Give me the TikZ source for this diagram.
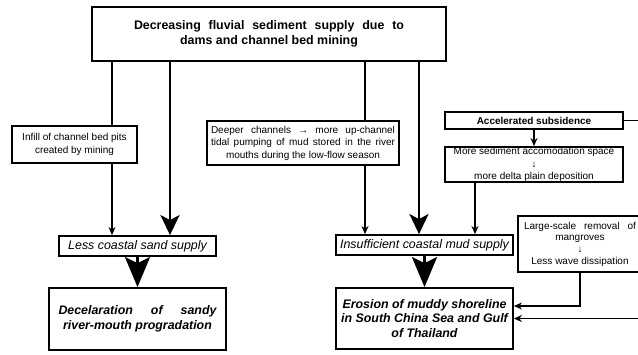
\documentclass[tikz,border=0pt]{standalone}
\usepackage{fontspec}
\setmainfont{Liberation Sans}
\usetikzlibrary{arrows.meta}

\tikzset{
  box/.style={draw, line width=1.8pt, inner sep=0pt, align=center},
  small/.style={font=\fontsize{10}{12.5}\selectfont},
  link/.style={line width=1.2pt},
  arr/.style={link, -{Stealth[length=8pt,width=7pt,inset=2.5pt]}},
  fat/.style={line width=2.6pt, -{Stealth[length=20pt,width=19pt,inset=5pt]}},
  fatter/.style={line width=2.6pt, -{Stealth[length=30pt,width=25pt,inset=6pt]}}
}

\begin{document}
\begin{tikzpicture}[x=1pt, y=-1pt]
        \clip (0,0) rectangle (638,354);

        \coordinate (infillx) at (112,0);
        \coordinate (sandx) at (170,0);
        \coordinate (deepx) at (365,0);
        \coordinate (mudx) at (419,0);
        \coordinate (plainx) at (475,0);

        \node [box, minimum width=354pt, minimum height=54pt, font=\fontsize{12.4}{15}\selectfont\bfseries] (supply) at (269,34)
              {\makebox[270pt][s]{Decreasing fluvial sediment supply due to}\\ dams and channel bed mining};

        \node [box, small, minimum width=125pt, minimum height=37pt] (infill) at (74.5,144.5)
              {Infill of channel bed pits\\ created by mining};
        \node [box, small, minimum width=192pt, minimum height=44pt] (deeper) at (303,143)
              {\makebox[184pt][s]{Deeper channels → more up-channel}\\
               \makebox[184pt][s]{tidal pumping of mud stored in the river}\\
               mouths during the low-flow season};
        \node [box, font=\fontsize{10}{12.5}\selectfont\bfseries, minimum width=178pt, minimum height=17pt] (subsidence) at (534,120.5)
              {Accelerated subsidence};
        \node [box, small, minimum width=178pt, minimum height=35pt] (space) at (534,164.5)
              {More sediment accomodation space\\ ↓\\ more delta plain deposition};
        \node [box, font=\fontsize{10}{11.7}\selectfont, minimum width=124pt, minimum height=56pt] (mangroves) at (580,244)
              {\makebox[112pt][s]{Large-scale removal of}\\ mangroves\\ ↓\\ Less wave dissipation};

        \node [box, font=\fontsize{12.4}{14.5}\selectfont\itshape, minimum width=157pt, minimum height=20pt] (sand) at (137.5,246)
              {Less coastal sand supply};
        \node [box, font=\fontsize{12.4}{14.5}\selectfont\itshape, minimum width=177pt, minimum height=20pt] (mud) at (424.5,245)
              {Insufficient coastal mud supply};

        \node [box, font=\fontsize{12.4}{14.5}\selectfont\bfseries\itshape, minimum width=177pt, minimum height=62pt] (decel) at (137.5,319)
              {\makebox[158pt][s]{Decelaration of sandy}\\ river-mouth progradation};
        \node [box, font=\fontsize{12.4}{14.5}\selectfont\bfseries\itshape, minimum width=177pt, minimum height=61pt] (erosion) at (424.5,318.5)
              {Erosion of muddy shoreline\\ in South China Sea and Gulf\\ of Thailand};

        \draw [link] (supply.south -| infillx) -- (infill.north -| infillx);
        \draw [arr] (infill.south -| infillx) -- (sand.north -| infillx);
        \draw [fat] (supply.south -| sandx) -- (sand.north -| sandx);
        \draw [link] (supply.south -| deepx) -- (deeper.north -| deepx);
        \draw [arr] (deeper.south -| deepx) -- (mud.north -| deepx);
        \draw [fat] (supply.south -| mudx) -- (mud.north -| mudx);
        \draw [arr] (subsidence) -- (space);
        \draw [arr] (space.south -| plainx) -- (mud.north -| plainx);

        \draw [fatter] (sand) -- (decel);
        \draw [fatter] (mud) -- (erosion);

        \draw [arr] (mangroves.south) |- ([yshift=12.5pt]erosion.east);
        \draw [arr] (subsidence.east) -- ++(28,0) |- (erosion.east);
      \end{tikzpicture}
\end{document}
